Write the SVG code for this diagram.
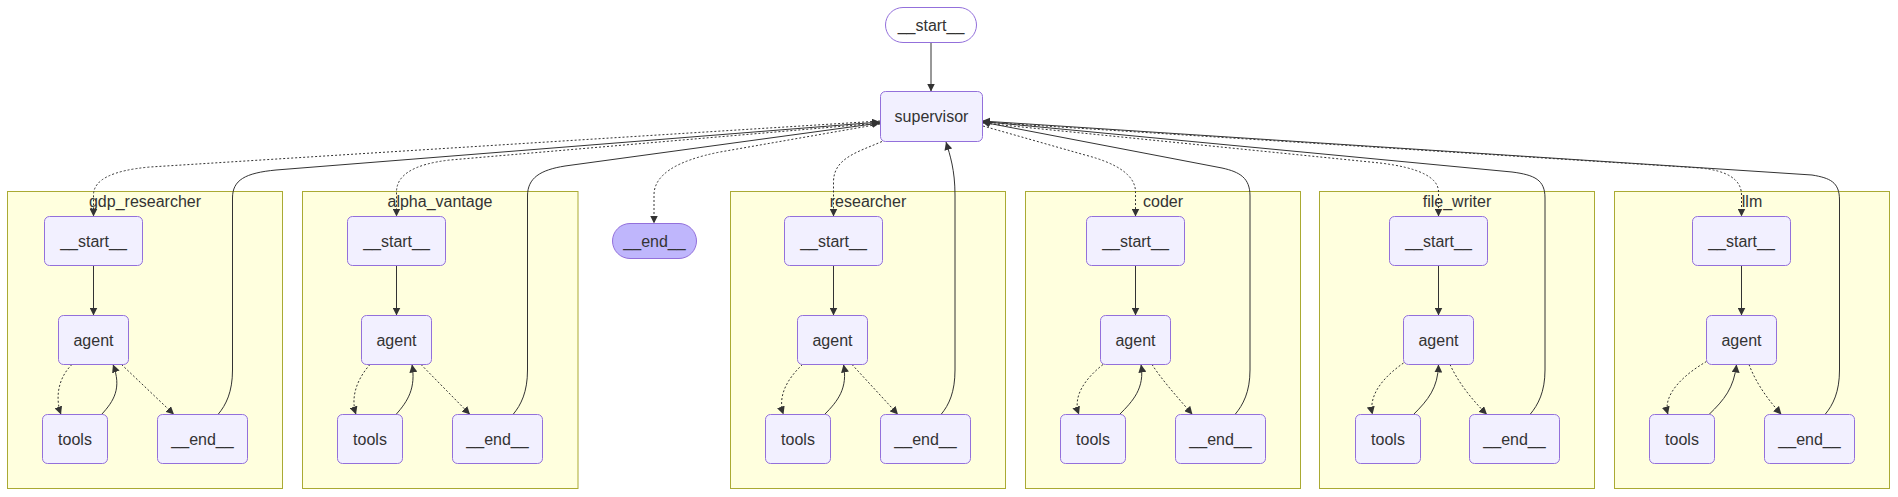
<svg xmlns="http://www.w3.org/2000/svg" width="1898" height="497" viewBox="0 0 1898 497">
<defs>
<marker id="arr" viewBox="0 0 10 10" refX="10" refY="5" markerUnits="userSpaceOnUse" markerWidth="8" markerHeight="8" orient="auto"><path d="M0,0 L10,5 L0,10 z" fill="#333"/></marker>
</defs>
<style>
.cl rect{fill:#ffffde;stroke:#aaaa33;stroke-width:1}
.nd rect{fill:#f2f0ff;stroke:#9370DB;stroke-width:1}
.nd rect.first{fill:#ffffff}
.nd rect.last{fill:#bfb6fc}
text{font-family:"Liberation Sans",Arial,sans-serif;font-size:16px;fill:#333;text-anchor:middle}
.e path{fill:none;stroke:#333;stroke-width:1;marker-end:url(#arr)}
.e path.d{stroke-dasharray:2 2}
</style>
<rect width="1898" height="497" fill="#ffffff"/>
<g id="clusters">
<g id="cluster_gdp_researcher" class="cl"><rect x="7.5" y="191.5" width="275" height="297"/><text x="145" y="207">gdp_researcher</text></g>
<g id="cluster_alpha_vantage" class="cl"><rect x="302.5" y="191.5" width="275.5" height="297"/><text x="440" y="207">alpha_vantage</text></g>
<g id="cluster_researcher" class="cl"><rect x="730.5" y="191.5" width="275" height="297"/><text x="868" y="207">researcher</text></g>
<g id="cluster_coder" class="cl"><rect x="1025.5" y="191.5" width="275" height="297"/><text x="1163" y="207">coder</text></g>
<g id="cluster_file_writer" class="cl"><rect x="1319.5" y="191.5" width="275" height="297"/><text x="1457" y="207">file_writer</text></g>
<g id="cluster_llm" class="cl"><rect x="1614.5" y="191.5" width="275" height="297"/><text x="1752" y="207">llm</text></g>
</g>
<g id="connectors" class="e">
<path d="M931,42 L931,91.5"/>
<!-- left side long edges -->
<path class="d" d="M880,121 L150,167 Q93.5,172 93.5,195 L93.5,216.5"/>
<path d="M218,414.5 C226,405 232.5,392 232.5,370 L232.5,198 C232.5,180 245,173 276,170 L880,122"/>
<path class="d" d="M880,123 L450,160 Q396.5,166 396.5,192 L396.5,216.5"/>
<path d="M513,414.5 C521,405 527.5,392 527.5,370 L527.5,196 C527.5,178 540,170 565,166 L880,123"/>
<path class="d" d="M880,124 L720,152 Q654,165 654,195 L654,223.5"/>
<path class="d" d="M882,141.5 C858,152 833.5,158 833.5,182 L833.5,216.5"/>
<path d="M941,414.5 C949,405 955,392 955,370 L955,195 C955,170 950,155 946,142"/>
<!-- right side long edges -->
<path class="d" d="M983,126 L1085,155 Q1135.5,168 1135.5,192 L1135.5,216.5"/>
<path d="M1235,414.5 C1243,405 1250,392 1250,370 L1250,196 C1250,178 1240,172 1222,168 L982,122"/>
<path class="d" d="M982,123 L1380,163 Q1438.5,170 1438.5,192 L1438.5,216.5"/>
<path d="M1530,414.5 C1538,405 1545,392 1545,370 L1545,198 C1545,180 1535,175 1512,172 L982,121.5"/>
<path class="d" d="M982,122 L1700,168 Q1741.5,172 1741.5,195 L1741.5,216.5"/>
<path d="M1825,414.5 C1833,405 1839.5,392 1839.5,370 L1839.5,200 C1839.5,182 1830,178 1812,175 L982,121"/>
<!-- gdp_researcher inner -->
<path d="M93.5,265.5 L93.5,315.5"/>
<path class="d" d="M72,364.5 C58,378 55,398 61,414.5"/>
<path d="M101.5,414.5 C114,401 122,388 113,364.5"/>
<path class="d" d="M121.5,364.5 L174,414.5"/>
<!-- alpha_vantage inner -->
<path d="M396.5,265.5 L396.5,315.5"/>
<path class="d" d="M370,364.5 C358,378 350,396 356,414.5"/>
<path d="M396,414.5 C408,401 416,388 412,364.5"/>
<path class="d" d="M421,364.5 L470,414.5"/>
<!-- researcher inner -->
<path d="M833.5,265.5 L833.5,315.5"/>
<path class="d" d="M802.5,364.5 C788,378 777,396 783.5,414.5"/>
<path d="M824.5,414.5 C838,401 848,388 843.5,364.5"/>
<path class="d" d="M852,364.5 L898,414.5"/>
<!-- coder inner -->
<path d="M1135.5,265.5 L1135.5,315.5"/>
<path class="d" d="M1103,364.5 C1086,378 1072,396 1079,414.5"/>
<path d="M1119.5,414.5 C1133,401 1145,388 1141,364.5"/>
<path class="d" d="M1152,364.5 C1162,380 1178,398 1192.5,414.5"/>
<!-- file_writer inner -->
<path d="M1438.5,265.5 L1438.5,315.5"/>
<path class="d" d="M1403.5,363 C1385,376 1368,394 1372.5,414.5"/>
<path d="M1413.5,414.5 C1428,400 1438,388 1438.5,364.5"/>
<path class="d" d="M1450,364.5 C1458,382 1472,400 1487,414.5"/>
<!-- llm inner -->
<path d="M1741.5,265.5 L1741.5,315.5"/>
<path class="d" d="M1706.5,361.5 C1685,374 1662,394 1668,414.5"/>
<path d="M1709,414.5 C1724,400 1734,388 1736.5,364.5"/>
<path class="d" d="M1749,364.5 C1756,383 1768,400 1781.5,414.5"/>
</g>
<g id="nodes">
<g id="node___start__" class="nd"><rect class="first" x="885.5" y="7.5" width="91" height="35" rx="17.5" ry="17.5"/><text x="931" y="30.5">__start__</text></g>
<g id="node_supervisor" class="nd"><rect x="880.5" y="91.5" width="102" height="50" rx="5" ry="5"/><text x="931.5" y="122">supervisor</text></g>
<g id="node___end__" class="nd"><rect class="last" x="612.5" y="223.5" width="84" height="35" rx="17.5" ry="17.5"/><text x="654.5" y="246.5">__end__</text></g>

<g id="node_gdp_researcher___start__" class="nd"><rect x="44.5" y="216.5" width="98" height="49" rx="5" ry="5"/><text x="93.5" y="246.5">__start__</text></g>
<g id="node_gdp_researcher_agent" class="nd"><rect x="58.5" y="315.5" width="70" height="49" rx="5" ry="5"/><text x="93.5" y="345.5">agent</text></g>
<g id="node_gdp_researcher_tools" class="nd"><rect x="42.5" y="414.5" width="65" height="49" rx="5" ry="5"/><text x="75" y="444.5">tools</text></g>
<g id="node_gdp_researcher___end__" class="nd"><rect x="157.5" y="414.5" width="90" height="49" rx="5" ry="5"/><text x="202.5" y="444.5">__end__</text></g>

<g id="node_alpha_vantage___start__" class="nd"><rect x="347.5" y="216.5" width="98" height="49" rx="5" ry="5"/><text x="396.5" y="246.5">__start__</text></g>
<g id="node_alpha_vantage_agent" class="nd"><rect x="361.5" y="315.5" width="70" height="49" rx="5" ry="5"/><text x="396.5" y="345.5">agent</text></g>
<g id="node_alpha_vantage_tools" class="nd"><rect x="337.5" y="414.5" width="65" height="49" rx="5" ry="5"/><text x="370" y="444.5">tools</text></g>
<g id="node_alpha_vantage___end__" class="nd"><rect x="452.5" y="414.5" width="90" height="49" rx="5" ry="5"/><text x="497.5" y="444.5">__end__</text></g>

<g id="node_researcher___start__" class="nd"><rect x="784.5" y="216.5" width="98" height="49" rx="5" ry="5"/><text x="833.5" y="246.5">__start__</text></g>
<g id="node_researcher_agent" class="nd"><rect x="797.5" y="315.5" width="70" height="49" rx="5" ry="5"/><text x="832.5" y="345.5">agent</text></g>
<g id="node_researcher_tools" class="nd"><rect x="765.5" y="414.5" width="65" height="49" rx="5" ry="5"/><text x="798" y="444.5">tools</text></g>
<g id="node_researcher___end__" class="nd"><rect x="880.5" y="414.5" width="90" height="49" rx="5" ry="5"/><text x="925.5" y="444.5">__end__</text></g>

<g id="node_coder___start__" class="nd"><rect x="1086.5" y="216.5" width="98" height="49" rx="5" ry="5"/><text x="1135.5" y="246.5">__start__</text></g>
<g id="node_coder_agent" class="nd"><rect x="1100.5" y="315.5" width="70" height="49" rx="5" ry="5"/><text x="1135.5" y="345.5">agent</text></g>
<g id="node_coder_tools" class="nd"><rect x="1060.5" y="414.5" width="65" height="49" rx="5" ry="5"/><text x="1093" y="444.5">tools</text></g>
<g id="node_coder___end__" class="nd"><rect x="1175.5" y="414.5" width="90" height="49" rx="5" ry="5"/><text x="1220.5" y="444.5">__end__</text></g>

<g id="node_file_writer___start__" class="nd"><rect x="1389.5" y="216.5" width="98" height="49" rx="5" ry="5"/><text x="1438.5" y="246.5">__start__</text></g>
<g id="node_file_writer_agent" class="nd"><rect x="1403.5" y="315.5" width="70" height="49" rx="5" ry="5"/><text x="1438.5" y="345.5">agent</text></g>
<g id="node_file_writer_tools" class="nd"><rect x="1355.5" y="414.5" width="65" height="49" rx="5" ry="5"/><text x="1388" y="444.5">tools</text></g>
<g id="node_file_writer___end__" class="nd"><rect x="1469.5" y="414.5" width="90" height="49" rx="5" ry="5"/><text x="1514.5" y="444.5">__end__</text></g>

<g id="node_llm___start__" class="nd"><rect x="1692.5" y="216.5" width="98" height="49" rx="5" ry="5"/><text x="1741.5" y="246.5">__start__</text></g>
<g id="node_llm_agent" class="nd"><rect x="1706.5" y="315.5" width="70" height="49" rx="5" ry="5"/><text x="1741.5" y="345.5">agent</text></g>
<g id="node_llm_tools" class="nd"><rect x="1649.5" y="414.5" width="65" height="49" rx="5" ry="5"/><text x="1682" y="444.5">tools</text></g>
<g id="node_llm___end__" class="nd"><rect x="1764.5" y="414.5" width="90" height="49" rx="5" ry="5"/><text x="1809.5" y="444.5">__end__</text></g>
</g>
</svg>
